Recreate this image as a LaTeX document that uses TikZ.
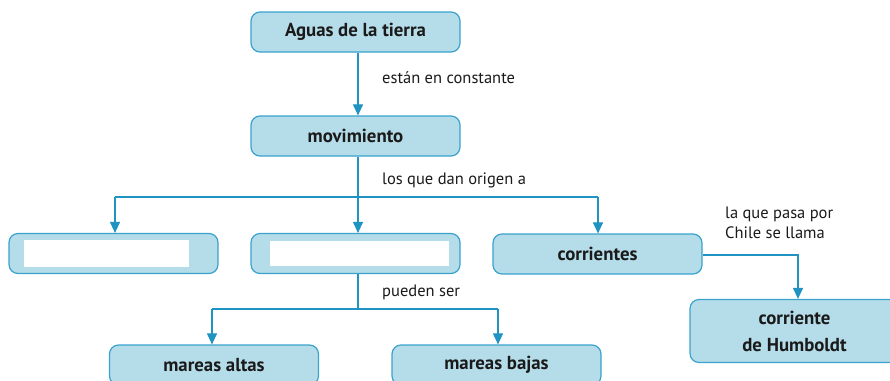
\documentclass[tikz,border=0pt]{standalone}
\usepackage{fontspec}
\setmainfont{PT Sans}
\usetikzlibrary{arrows.meta}
\definecolor{boxfill}{HTML}{B5DCE9}
\definecolor{boxline}{HTML}{3AA3CD}
\definecolor{conn}{HTML}{1F93C2}
\definecolor{txt}{HTML}{1A1A1A}
\tikzset{
  cbox/.style={draw=boxline, line width=1.2pt, fill=boxfill, rounded corners=9pt,
    minimum width=209pt, minimum height=40pt, inner sep=0pt,
    font=\fontsize{18.8}{22}\selectfont\bfseries, text=txt, align=center},
  blank/.style={fill=white, draw=none, inner sep=0pt},
  lbl/.style={font=\fontsize{16.5}{20}\selectfont, text=txt, anchor=west, inner sep=0pt, align=left},
  conline/.style={draw=conn, line width=1.1pt},
  arr/.style={conline, -{Triangle[width=10pt,length=11pt]}}
}
\begin{document}
\begin{tikzpicture}[x=1pt,y=-1pt]
\useasboundingbox (0,0) rectangle (890,380);
\clip (0,0) rectangle (890,380);
% boxes
\node[cbox] (aguas) at (355.5,32) {Aguas de la tierra};
\node[cbox] (mov) at (355.5,136) {movimiento};
\node[cbox] (left) at (113.5,253.5) {};
\node[blank, minimum width=165pt, minimum height=27pt] (leftw) at (106.5,253.5) {};
\node[cbox] (mid) at (355.5,253.5) {};
\node[blank, minimum width=179pt, minimum height=25pt] (midw) at (359.5,253.5) {};
\node[cbox] (corr) at (597.5,254) {corrientes};
\node[cbox, minimum height=63pt] (humb) at (794.5,331) {corriente\\[5pt]de Humboldt};
\node[cbox] (altas) at (214,365) {mareas altas};
\node[cbox] (bajas) at (496.5,365) {mareas bajas};
% coordinates
\coordinate (j1) at (358,197);
\coordinate (j1l) at (115,197);
\coordinate (j1r) at (598,197);
\coordinate (j2) at (358,309);
\coordinate (j2l) at (212,309);
\coordinate (j2r) at (498,309);
\coordinate (hk) at (798,255);
% connectors
\draw[arr] (aguas.south -| j1) -- (mov.north -| j1);
\draw[conline] (mov.south -| j1) -- (j1);
\draw[conline] (j1l) -- (j1r);
\draw[arr] (j1) -- (mid.north -| j1);
\draw[arr] (j1l) -- (left.north -| j1l);
\draw[arr] (j1r) -- (corr.north -| j1r);
\draw[conline] (mid.south -| j2) -- (j2);
\draw[conline] (j2l) -- (j2r);
\draw[arr] (j2l) -- (altas.north -| j2l);
\draw[arr] (j2r) -- (bajas.north -| j2r);
\draw[arr] (corr.east |- hk) -- (hk) -- (humb.north -| hk);
% labels
\node[lbl] (l1) at (382,78) {están en constante};
\node[lbl] (l2) at (382,180) {los que dan origen a};
\node[lbl] (l3) at (382,292) {pueden ser};
\node[lbl] (l4) at (725,223) {la que pasa por\\Chile se llama};
\end{tikzpicture}
\end{document}
